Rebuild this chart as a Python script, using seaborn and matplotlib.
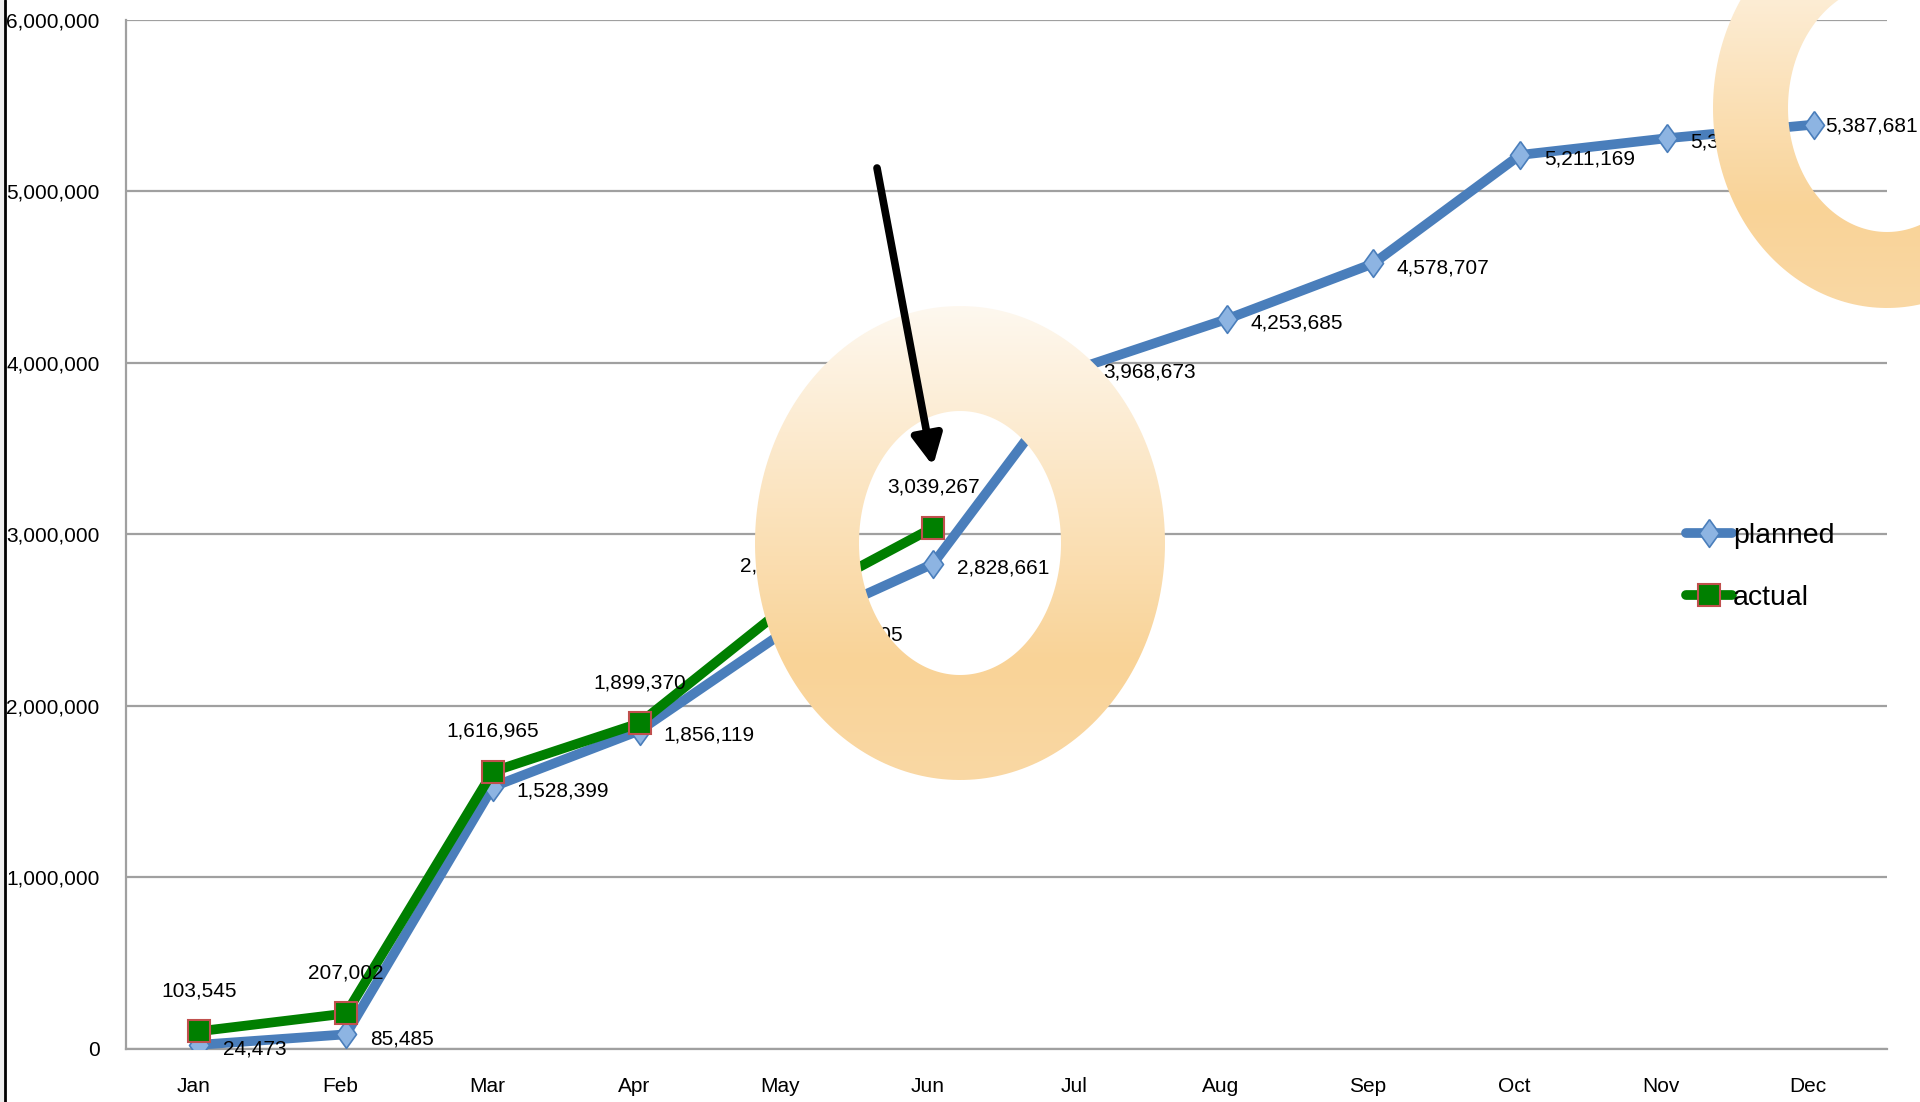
import numpy as np
import pandas as pd
import matplotlib
matplotlib.use("Agg")
import matplotlib.pyplot as plt
import seaborn as sns
from matplotlib.path import Path
from matplotlib.patches import PathPatch, Rectangle
from matplotlib.colors import LinearSegmentedColormap
from matplotlib.transforms import ScaledTranslation
from matplotlib.ticker import FuncFormatter

# ---------------- data ----------------
months = ["Jan", "Feb", "Mar", "Apr", "May", "Jun",
          "Jul", "Aug", "Sep", "Oct", "Nov", "Dec"]
planned = [24473, 85485, 1528399, 1856119, 2440205, 2828661,
           3968673, 4253685, 4578707, 5211169, 5308425, 5387681]
actual = [103545, 207002, 1616965, 1899370, 2582000, 3039267]
series_names = ["planned", "actual"]
y_ticks = [0, 1000000, 2000000, 3000000, 4000000, 5000000, 6000000]

# ---------------- style ----------------
sns.set_theme(style="white")
plt.rcParams["font.family"] = ["Liberation Sans Narrow", "Liberation Sans", "DejaVu Sans"]
plt.rcParams["text.color"] = "black"

W, H = 1920, 1102
fig = plt.figure(figsize=(W / 100, H / 100), dpi=100)
fig.patch.set_facecolor("white")

ax = fig.add_axes([126 / W, 1 - 1049 / H, (1887 - 126) / W, (1049 - 19.6) / H])

x_pos = np.arange(len(months))
df_p = pd.DataFrame({"x": x_pos, "v": planned})
df_a = pd.DataFrame({"x": x_pos[:len(actual)], "v": actual})

diamond = [(0, 1), (0.72, 0), (0, -1), (-0.72, 0), (0, 1)]

sns.lineplot(data=df_p, x="x", y="v", ax=ax, color="#4A7EBB", linewidth=7,
             marker=diamond, markersize=20, markerfacecolor="#8DB4E2",
             markeredgecolor="#4A7EBB", markeredgewidth=1.2,
             label=series_names[0], solid_capstyle="round", zorder=3)
sns.lineplot(data=df_a, x="x", y="v", ax=ax, color="#007F00", linewidth=7,
             marker="s", markersize=16, markerfacecolor="#007F00",
             markeredgecolor="#C0504D", markeredgewidth=1.5,
             label=series_names[1], solid_capstyle="round", zorder=4)

ax.set_xlim(-0.5, len(months) - 0.5)
ax.set_ylim(0, 6000000)
ax.set_xlabel("")
ax.set_ylabel("")
ax.set_yticks(y_ticks)
ax.yaxis.set_major_formatter(FuncFormatter(lambda v, p: f"{int(v):,}"))
ax.set_xticks(x_pos)
ax.set_xticklabels(months)
ax.yaxis.grid(True, color="#A0A0A0", linewidth=1.6)
ax.xaxis.grid(False)
for s in ["top", "right"]:
    ax.spines[s].set_visible(False)
for s in ["left", "bottom"]:
    ax.spines[s].set_color("#A0A0A0")
    ax.spines[s].set_linewidth(1.6)
ax.tick_params(axis="y", length=0, pad=19, labelsize=15, labelcolor="black")
ax.tick_params(axis="x", length=0, pad=20, labelsize=15, labelcolor="black")
for lab in ax.get_xticklabels():
    lab.set_transform(lab.get_transform() + ScaledTranslation(-6 / 100, 0, fig.dpi_scale_trans))

# data labels
n_p = len(planned)
for i, (xi, v) in enumerate(zip(x_pos, planned)):
    dx = 8 if i == n_p - 1 else 17
    ax.annotate(f"{v:,}", (xi, v), xytext=(dx, -1 if i == n_p - 1 else -3),
                textcoords="offset points", ha="left", va="center",
                fontsize=15, color="black", zorder=6)
for xi, v in zip(x_pos, actual):
    ax.annotate(f"{v:,}", (xi, v), xytext=(0, 29), textcoords="offset points",
                ha="center", va="center", fontsize=15, color="black", zorder=6)

leg = ax.legend(loc="center left", bbox_to_anchor=(1686 / W, 1 - 567 / H),
                bbox_transform=fig.transFigure, frameon=False, fontsize=20.5,
                handlelength=1.6, handletextpad=0.05, labelspacing=1.26,
                borderpad=0, borderaxespad=0, numpoints=1, labelcolor="black")

# ---------------- overlay (shapes) ----------------
ov = fig.add_axes([0, 0, 1, 1], zorder=10)
ov.set_xlim(0, W)
ov.set_ylim(H, 0)
ov.axis("off")
ov.patch.set_alpha(0)

ov.add_patch(Rectangle((0, 0), 4, H, color="#EEEEEE", zorder=1))
ov.plot([5.3, 5.3], [0, H], color="black", lw=2, zorder=2)

cmap = LinearSegmentedColormap.from_list(
    "donut", [(0.0, "#FEF8EF"), (0.75, "#F9D397"), (1.0, "#FAD8A4")])


def donut(cx, cy, rxo, ryo, rxi, ryi):
    t = np.linspace(0, 2 * np.pi, 240)
    outer = np.column_stack([cx + rxo * np.cos(t), cy + ryo * np.sin(t)])
    inner = np.column_stack([cx + rxi * np.cos(-t), cy + ryi * np.sin(-t)])
    verts = np.vstack([outer, inner])
    n = len(t)
    codes = [Path.MOVETO] + [Path.LINETO] * (n - 2) + [Path.CLOSEPOLY]
    codes = codes + codes
    patch = PathPatch(Path(verts, codes), facecolor="none", edgecolor="none")
    ov.add_patch(patch)
    grad = np.linspace(0, 1, 256).reshape(-1, 1)
    im = ov.imshow(grad, cmap=cmap, aspect="auto", origin="upper",
                   extent=(cx - rxo, cx + rxo, cy + ryo, cy - ryo), zorder=5)
    im.set_clip_path(patch)


donut(960, 543, 205, 237, 101, 132)
donut(1887, 108, 174, 200, 99, 124)
ov.set_xlim(0, W)
ov.set_ylim(H, 0)

ov.annotate("", xy=(933, 466), xytext=(877, 168),
            arrowprops=dict(arrowstyle="-|>,head_length=0.6,head_width=0.3",
                            lw=5.5, color="black", shrinkA=0, shrinkB=0,
                            mutation_scale=30), zorder=8)

fig.savefig("out.png", dpi=100)
